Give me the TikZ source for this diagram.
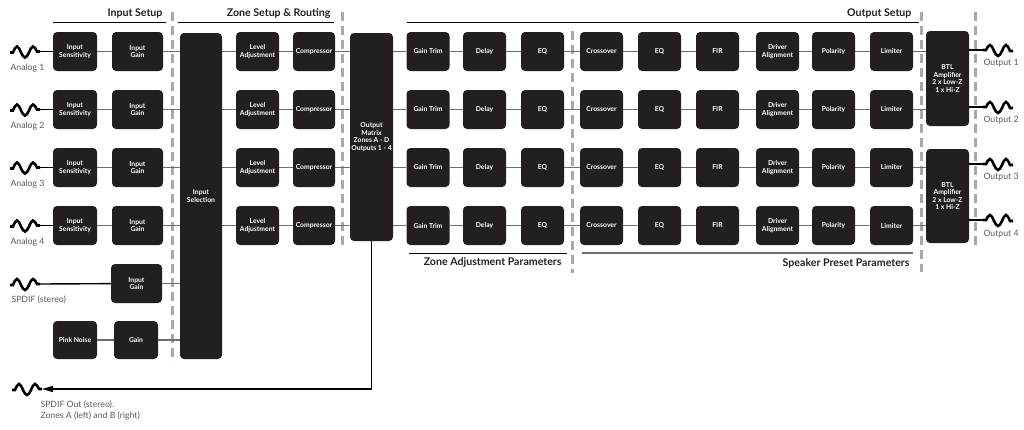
\documentclass[tikz,border=0pt]{standalone}
\usepackage{fontspec}
\setmainfont{Lato}
\usetikzlibrary{arrows.meta}
\definecolor{boxc}{HTML}{231F20}
\definecolor{linkc}{HTML}{6D6E71}
\definecolor{dashc}{HTML}{A7A9AC}
\definecolor{labelc}{HTML}{58595B}
\begin{document}
\begin{tikzpicture}[x=1pt, y=-1pt,
  blk/.style={fill=boxc, rounded corners=4pt, text=white, align=center, inner sep=1pt,
    minimum width=43pt, minimum height=39pt, font=\fontsize{6.8}{7.6}\selectfont\bfseries},
  wideblk/.style={blk, minimum width=51pt},
  link/.style={draw=linkc, line width=1.6pt},
  feed/.style={draw=black, line width=1.4pt},
  sep/.style={draw=dashc, line width=3pt, dash pattern=on 9pt off 5pt},
  head/.style={anchor=east, font=\fontsize{10.6}{12}\selectfont\bfseries, text=boxc},
  port/.style={anchor=west, font=\fontsize{8.7}{11}\selectfont, text=labelc},
  wave/.pic={
    \draw[line width=2.6pt] (0,1) -- (3,1) sin (7,-5) cos (11,1) sin (15,6) cos (19,1)
      sin (23,-5) cos (27,0) -- (30,0);
    \coordinate (-end) at (30,0);
  }]
  \useasboundingbox (0,0) rectangle (1024,429);
  \draw[sep] (172,12) -- (172,362);
  \draw[sep] (342,12) -- (342,248);
  \draw[sep] (572,31) -- (572,273);
  \draw[sep] (921,12) -- (921,272);
  \draw[sep] (975,12) -- (975,248);
  \node[head] (hin) at (166,14) {Input Setup};
  \draw[line width=0.8pt] (53,22) -- (166,22);
  \node[head] (hzone) at (334,14) {Zone Setup \& Routing};
  \draw[line width=0.8pt] (178,22) -- (334,22);
  \node[head] (hout) at (915,14) {Output Setup};
  \draw[line width=0.8pt] (407,22) -- (919,22);
  \node[head] (hadj) at (565,263) {Zone Adjustment Parameters};
  \draw[line width=0.8pt] (409,253) -- (567,253);
  \node[head] (hspk) at (913,263) {Speaker Preset Parameters};
  \draw[linkc, line width=2pt] (582,253) -- (913,253);
  \node[blk, minimum width=42pt, minimum height=326pt] (sel) at (201,196) {Input\\Selection};
  \node[blk, minimum height=208pt] (om) at (371.5,137) {Output\\Matrix\\Zones A - D\\Outputs 1 - 4};
  \node[blk, minimum height=95pt] (btlA) at (947.5,78.5) {BTL\\Amplifier\\2 x Low-Z\\1 x Hi-Z};
  \node[blk, minimum height=94pt] (btlB) at (947.5,196) {BTL\\Amplifier\\2 x Low-Z\\1 x Hi-Z};
  \foreach \r/\y in {1/51.5,2/109.5,3/167.5,4/225.5} {
    \pic (in\r) at (10,\y) {wave};
    \node[port] (analog\r) at (7,\y+17) {Analog \r};
    \node[blk, minimum width=44pt] (sens\r) at (75,\y) {Input\\Sensitivity};
    \node[wideblk] (gain\r) at (137.5,\y) {Input\\Gain};
    \node[blk] (lvl\r) at (257.5,\y) {Level\\Adjustment};
    \node[blk, minimum width=42pt] (comp\r) at (314,\y) {Compressor};
    \node[blk] (trim\r) at (428,\y) {Gain Trim};
    \node[blk] (dly\r) at (484.5,\y) {Delay};
    \node[blk] (eqa\r) at (542.5,\y) {EQ};
    \node[blk] (xo\r) at (601.5,\y) {Crossover};
    \node[blk] (eqb\r) at (659.5,\y) {EQ};
    \node[blk] (fir\r) at (717.5,\y) {FIR};
    \node[blk] (drv\r) at (777.5,\y) {Driver\\Alignment};
    \node[blk] (pol\r) at (833.5,\y) {Polarity};
    \node[blk] (lim\r) at (891.5,\y) {Limiter};
    \draw[feed] (in\r-end) -- (sens\r);
    \draw[link] (sens\r) -- (gain\r) -- (gain\r -| sel.west)
      (sel.east |- lvl\r) -- (lvl\r) -- (comp\r) -- (comp\r -| om.west)
      (om.east |- trim\r) -- (trim\r) -- (dly\r) -- (eqa\r) -- (xo\r) -- (eqb\r)
      -- (fir\r) -- (drv\r) -- (pol\r) -- (lim\r);
  }
  \draw[link] (lim1) -- (lim1 -| btlA.west) (lim2) -- (lim2 -| btlA.west)
    (lim3) -- (lim3 -| btlB.west) (lim4) -- (lim4 -| btlB.west);
  \pic[xscale=-1] (outA) at (1013,50) {wave};
  \pic[xscale=-1] (outB) at (1013,107) {wave};
  \pic[xscale=-1] (outC) at (1013,164) {wave};
  \pic[xscale=-1] (outD) at (1013,220) {wave};
  \draw[feed] (outA-end -| btlA.east) -- (outA-end) (outB-end -| btlA.east) -- (outB-end)
    (outC-end -| btlB.east) -- (outC-end) (outD-end -| btlB.east) -- (outD-end);
  \node[port] (out1) at (980,63) {Output 1};
  \node[port] (out2) at (980,120) {Output 2};
  \node[port] (out3) at (980,177) {Output 3};
  \node[port] (out4) at (980,234) {Output 4};
  \pic (spdif) at (10,284) {wave};
  \node[port] (spdifl) at (8,300) {SPDIF (stereo)};
  \node[wideblk] (gain5) at (136.5,283.5) {Input\\Gain};
  \draw[feed] (spdif-end) -- (gain5);
  \draw[link] (gain5) -- (gain5 -| sel.west);
  \node[blk, minimum width=44pt, minimum height=38pt] (pink) at (75,340) {Pink Noise};
  \node[blk, minimum width=44pt, minimum height=38pt] (ngain) at (136,340) {Gain};
  \draw[link] (pink) -- (ngain) -- (ngain -| sel.west);
  \pic (spdo) at (12,389) {wave};
  \draw[feed, -{Triangle[length=11pt,width=6pt]}] (om) |- (spdo-end);
  \node[port, align=left] (spdol) at (37,410.5) {SPDIF Out (stereo).\\Zones A (left) and B (right)};
\end{tikzpicture}
\end{document}
